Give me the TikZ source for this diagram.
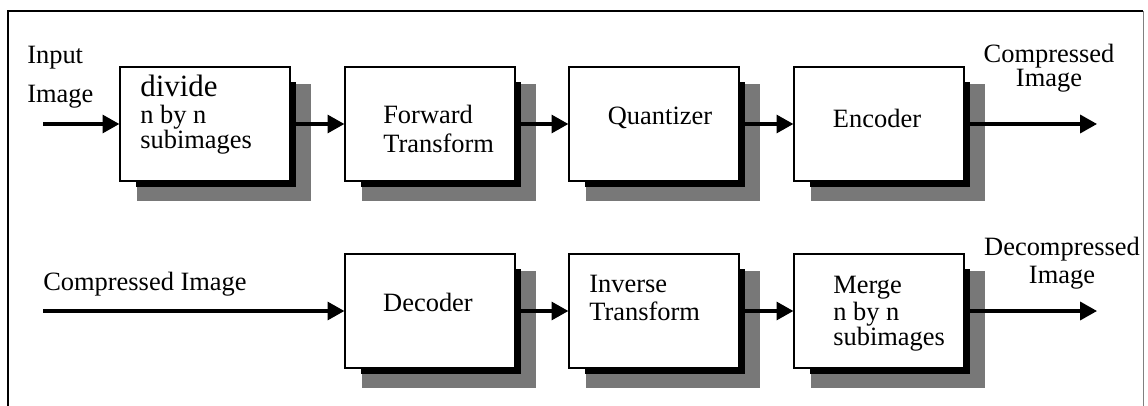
\documentclass[tikz,border=0pt]{standalone}
\usepackage{fontspec}
\setmainfont{Liberation Serif}
\usetikzlibrary{arrows.meta,calc,backgrounds}

\begin{document}
\begin{tikzpicture}[x=0.025cm,y=-0.025cm,
  blk/.style={draw,line width=0.9pt,fill=white,minimum width=4.25cm,minimum height=2.85cm,inner sep=0pt},
  txt/.style={font=\fontsize{18.8}{20}\selectfont,inner sep=0pt,align=left},
  flow/.style={line width=2.2pt,-{Triangle[length=0.42cm,width=0.45cm]}}]
  % colors
  \definecolor{kGrey}{rgb}{0.47,0.47,0.47}
  \useasboundingbox (0,0) rectangle (1148,406);
  % frame (open at the bottom)
  \draw[line width=1.3pt] (8,406) -- (8,11) -- (1143,11);
  \draw[line width=0.7pt,color=gray] (1143,11) -- (1143,406);

  % compression row
  \node[blk] (div) at (205,124) {};
  \node[blk] (fwd) at (430,124) {};
  \node[blk] (qnt) at (654,124) {};
  \node[blk] (enc) at (879,124) {};
  % decompression row
  \node[blk] (dec) at (430,311) {};
  \node[blk] (inv) at (654,311) {};
  \node[blk] (mrg) at (879,311) {};

  % shadows
  \begin{scope}[on background layer]
    \foreach \n in {div,fwd,qnt,enc,dec,inv,mrg} {
      \fill[kGrey] ($(\n.south west)+(18,19)$) rectangle ($(\n.north east)+(20,18)$);
      \fill[black] ($(\n.south west)+(17,5)$) rectangle ($(\n.north east)+(5,16)$);
    };
  \end{scope}

  % texts
  \node[txt,anchor=west] (in) at (27,77) {Input\\[8pt]Image};
  \node[txt,anchor=west] at (140,115) {{\fontsize{22}{20}\selectfont divide}\\[-1pt]n by n\\[-2pt]subimages};
  \node[txt,anchor=west] at (383,129) {Forward\\Transform};
  \node[txt] at (660,118) {Quantizer};
  \node[txt] at (877,118) {Encoder};
  \node[txt,align=center] (out) at (1049,68) {Compressed\\[-3pt]Image};
  \node[txt,anchor=west] (cin) at (43,284) {Compressed Image};
  \node[txt] at (428,302) {Decoder};
  \node[txt,anchor=west] at (589,298) {Inverse\\Transform};
  \node[txt,anchor=west] at (833,314) {Merge\\[-1pt]n by n\\[-2pt]subimages};
  \node[txt,align=center] (dout) at (1062,263) {Decompressed\\Image};

  % arrows
  \coordinate (s1) at (43,124);
  \coordinate (e1) at (1097,124);
  \coordinate (s2) at (43,311);
  \coordinate (e2) at (1097,311);
  \draw[flow] (s1) -- (div.west);
  \draw[flow] (div.east) -- (fwd.west);
  \draw[flow] (fwd.east) -- (qnt.west);
  \draw[flow] (qnt.east) -- (enc.west);
  \draw[flow] (enc.east) -- (e1);
  \draw[flow] (s2) -- (dec.west);
  \draw[flow] (dec.east) -- (inv.west);
  \draw[flow] (inv.east) -- (mrg.west);
  \draw[flow] (mrg.east) -- (e2);
\end{tikzpicture}
\end{document}
